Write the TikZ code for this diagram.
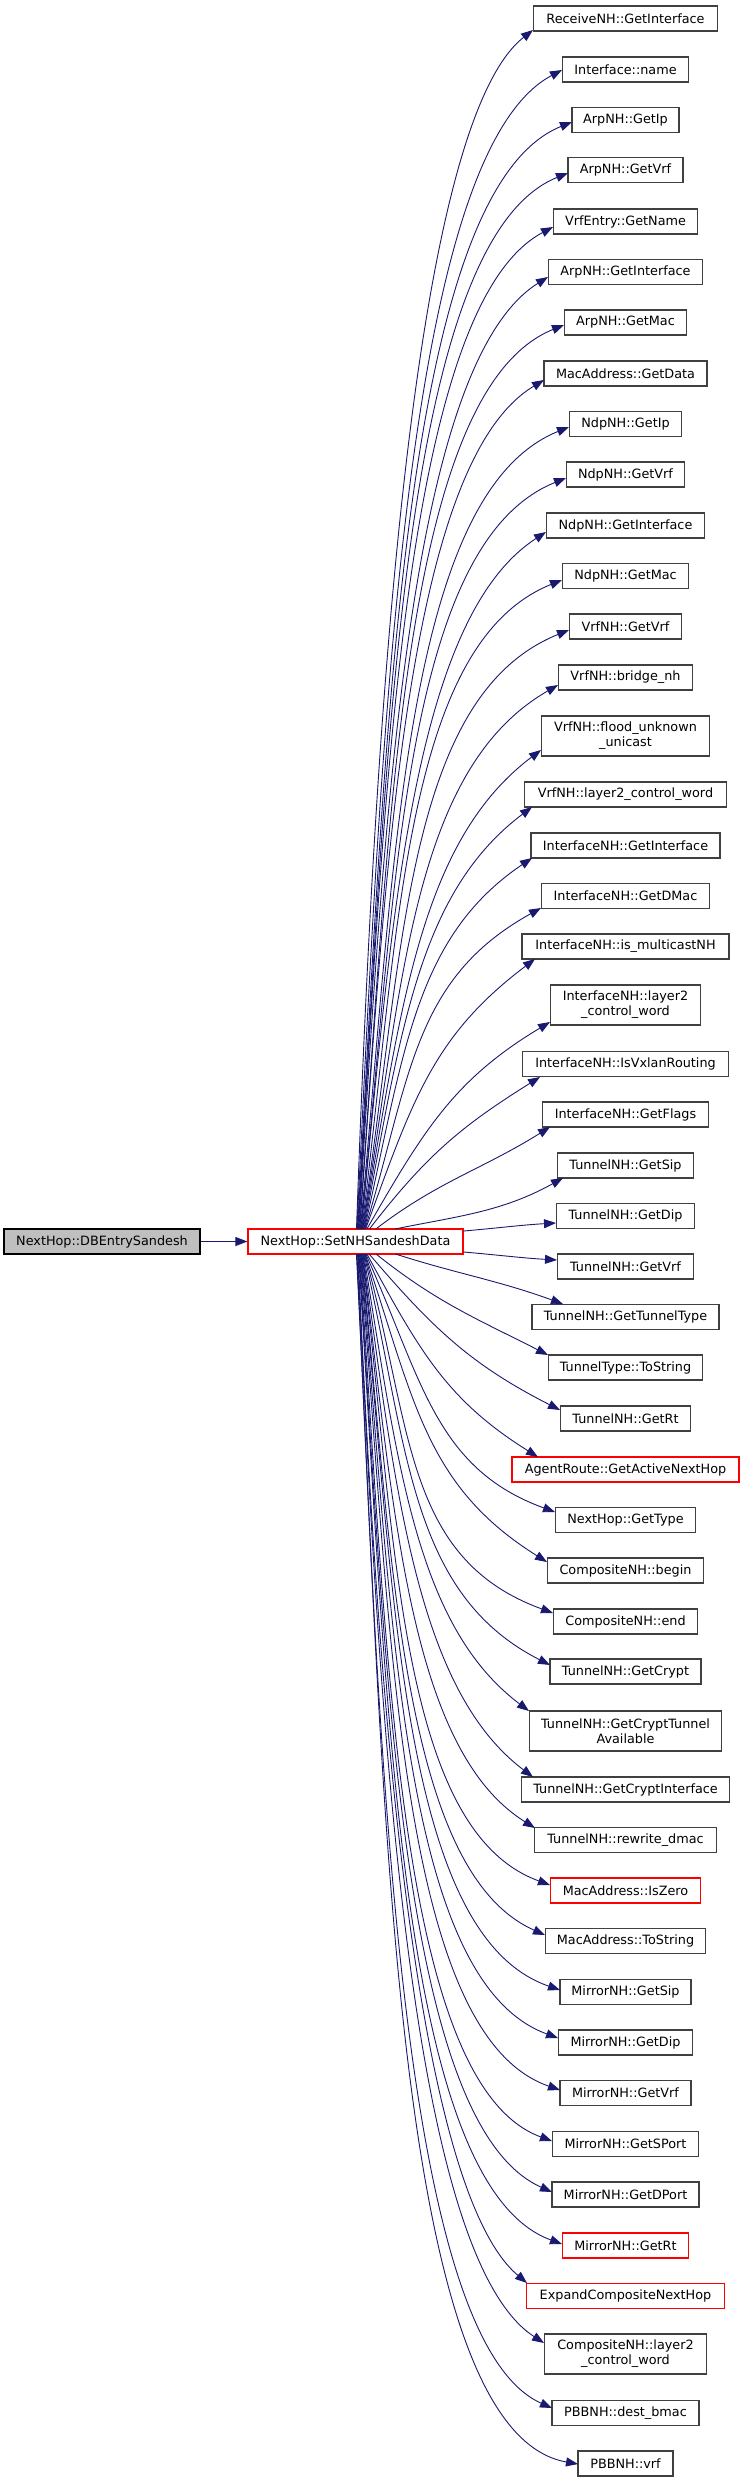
\documentclass[tikz,border=0pt]{standalone}
\usepackage{fontspec}
\setmainfont{DejaVu Sans}
\usetikzlibrary{arrows.meta}
\definecolor{grey25}{HTML}{404040}
\definecolor{grey75}{HTML}{BFBFBF}
\definecolor{midnight}{HTML}{191970}
\definecolor{nodered}{HTML}{FF0000}
\begin{document}
\begin{tikzpicture}[x=1pt,y=-1pt,
  box/.style={draw=grey25,line width=1.2pt,fill=white,inner sep=0pt,minimum height=25pt,
    font=\fontsize{12.8}{15}\selectfont,text=black,align=center},
  tall/.style={minimum height=40pt},
  redbox/.style={draw=nodered},
  rootbox/.style={fill=grey75,draw=black},
  edge/.style={draw=midnight,line width=0.9pt,-{Triangle[length=12pt,width=9pt]},color=midnight}]
\useasboundingbox (0,0) rectangle (744,2483);

\node[box,rootbox,minimum width=196pt] (r) at (102,1241.5) {NextHop::DBEntrySandesh};
\node[box,redbox,minimum width=215pt] (n0) at (355.5,1241.5) {NextHop::SetNHSandeshData};

\node[box,minimum width=184pt] (n1) at (625.5,18.5) {ReceiveNH::GetInterface};
\node[box,minimum width=126pt] (n2) at (625.5,69.5) {Interface::name};
\node[box,minimum width=107pt] (n3) at (625.5,120) {ArpNH::GetIp};
\node[box,minimum width=115pt] (n4) at (625.5,170) {ArpNH::GetVrf};
\node[box,minimum width=144pt] (n5) at (625.5,221.5) {VrfEntry::GetName};
\node[box,minimum width=154pt] (n6) at (625.5,272) {ArpNH::GetInterface};
\node[box,minimum width=122pt] (n7) at (625.5,322.5) {ArpNH::GetMac};
\node[box,minimum width=163pt] (n8) at (625.5,373.5) {MacAddress::GetData};
\node[box,minimum width=112pt] (n9) at (625.5,424) {NdpNH::GetIp};
\node[box,minimum width=118pt] (n10) at (625.5,474.5) {NdpNH::GetVrf};
\node[box,minimum width=158pt] (n11) at (625.5,525.5) {NdpNH::GetInterface};
\node[box,minimum width=126pt] (n12) at (625.5,576) {NdpNH::GetMac};
\node[box,minimum width=112pt] (n13) at (625.5,626.5) {VrfNH::GetVrf};
\node[box,minimum width=134pt] (n14) at (625.5,677.5) {VrfNH::bridge\_nh};
\node[box,tall,minimum width=168pt] (n15) at (625.5,736) {VrfNH::flood\_unknown\\\_unicast};
\node[box,minimum width=202pt] (n16) at (625.5,794.5) {VrfNH::layer2\_control\_word};
\node[box,minimum width=189pt] (n17) at (625.5,845.5) {InterfaceNH::GetInterface};
\node[box,minimum width=168pt] (n18) at (625.5,896) {InterfaceNH::GetDMac};
\node[box,minimum width=207pt] (n19) at (625.5,946.5) {InterfaceNH::is\_multicastNH};
\node[box,tall,minimum width=150pt] (n20) at (625.5,1005) {InterfaceNH::layer2\\\_control\_word};
\node[box,minimum width=206pt] (n21) at (625.5,1064) {InterfaceNH::IsVxlanRouting};
\node[box,minimum width=166pt] (n22) at (625.5,1114.5) {InterfaceNH::GetFlags};
\node[box,minimum width=136pt] (n23) at (625.5,1165.5) {TunnelNH::GetSip};
\node[box,minimum width=138pt] (n24) at (625.5,1216) {TunnelNH::GetDip};
\node[box,minimum width=136pt] (n25) at (625.5,1266.5) {TunnelNH::GetVrf};
\node[box,minimum width=187pt] (n26) at (625.5,1317) {TunnelNH::GetTunnelType};
\node[box,minimum width=154pt] (n27) at (625.5,1367.5) {TunnelType::ToString};
\node[box,minimum width=130pt] (n28) at (625.5,1418.5) {TunnelNH::GetRt};
\node[box,redbox,minimum width=227pt] (n29) at (625.5,1469.5) {AgentRoute::GetActiveNextHop};
\node[box,minimum width=140pt] (n30) at (625.5,1520) {NextHop::GetType};
\node[box,minimum width=156pt] (n31) at (625.5,1570.5) {CompositeNH::begin};
\node[box,minimum width=144pt] (n32) at (625.5,1621.5) {CompositeNH::end};
\node[box,minimum width=151pt] (n33) at (625.5,1671.5) {TunnelNH::GetCrypt};
\node[box,tall,minimum width=192pt] (n34) at (625.5,1731) {TunnelNH::GetCryptTunnel\\Available};
\node[box,minimum width=208pt] (n35) at (625.5,1789.5) {TunnelNH::GetCryptInterface};
\node[box,minimum width=182pt] (n36) at (625.5,1840) {TunnelNH::rewrite\_dmac};
\node[box,redbox,minimum width=150pt] (n37) at (625.5,1890.5) {MacAddress::IsZero};
\node[box,minimum width=160pt] (n38) at (625.5,1941) {MacAddress::ToString};
\node[box,minimum width=131pt] (n39) at (625.5,1992) {MirrorNH::GetSip};
\node[box,minimum width=134pt] (n40) at (625.5,2042.5) {MirrorNH::GetDip};
\node[box,minimum width=131pt] (n41) at (625.5,2093) {MirrorNH::GetVrf};
\node[box,minimum width=146pt] (n42) at (625.5,2144) {MirrorNH::GetSPort};
\node[box,minimum width=147pt] (n43) at (625.5,2194.5) {MirrorNH::GetDPort};
\node[box,redbox,minimum width=126pt] (n44) at (625.5,2245.5) {MirrorNH::GetRt};
\node[box,redbox,minimum width=198pt] (n45) at (625.5,2296) {ExpandCompositeNextHop};
\node[box,tall,minimum width=162pt] (n46) at (625.5,2354) {CompositeNH::layer2\\\_control\_word};
\node[box,minimum width=147pt] (n47) at (625.5,2413) {PBBNH::dest\_bmac};
\node[box,minimum width=95pt] (n48) at (625.5,2463.5) {PBBNH::vrf};

\draw[edge] (r) -- (n0);

\foreach \ki/\cy/\ex/\ey/\ta in {
 1/18.5/533/30/38, 2/69.5/562/70/28, 3/120/572/122/22, 4/170/568/173/22,
 5/221.5/553/227/28, 6/272/548/277/32, 7/322.5/564/325/22, 8/373.5/544/380/31,
 9/424/569/427/22, 10/474.5/566/478/22, 11/525.5/546/532/33, 12/576/562/580/22,
 13/626.5/569/630/22, 14/677.5/558/685/30, 15/736/541/750/37, 16/794.5/532/807/37,
 17/845.5/532/858/34, 18/896/541/908/29, 19/946.5/535/959/37, 20/1005/550/1022/31,
 21/1064/540/1077/32, 22/1114.5/550/1127/32, 23/1165.5/563/1178/29,
 26/1317/563/1304/20, 27/1367.5/548/1355/27, 28/1418.5/560/1410/27,
 29/1469.5/538/1457/32, 30/1520/555/1512/20, 31/1570.5/547/1562/32,
 32/1621.5/553/1613/20, 33/1671.5/550/1665/27, 34/1731/529/1711/37,
 35/1789.5/533/1777/37, 36/1840/535/1828/32, 37/1890.5/550/1885/20,
 38/1941/545/1935/24, 39/1992/560/1990/19, 40/2042.5/558/2038/20,
 41/2093/560/2090/19, 42/2144/552/2141/20, 43/2194.5/552/2192/24,
 44/2245.5/562/2244/20, 45/2296/527/2283/40, 46/2354/544/2343/33,
 47/2413/552/2408/24, 48/2463.5/578/2464/10}{
  \pgfmathsetmacro\eUp{\ey<1241.5 ? 1 : -1}
  \pgfmathsetmacro\esy{\eUp>0 ? 1229 : 1254}
  \pgfmathsetmacro\eDv{abs(\ey-\esy)}
  \pgfmathsetmacro\esx{356+12*(1-\eDv/1250)+28*exp(-min(\eDv-50,400)/45)}
  \pgfmathsetmacro\eW{\ex-\esx}
  \pgfmathsetmacro\eC{100*sqrt((\eW/100)^2+(\eDv/100)^2)}
  \pgfmathsetmacro\eAl{atan2(\eDv,\eW)}
  \pgfmathsetmacro\ew{\eDv/(\eDv+\eW)}
  \pgfmathsetmacro\ePhi{min(89.5,\eAl+(90-\eAl)*\ew*\ew-max(0,\ta-\eAl)*(1-\ew))}
  \pgfmathsetmacro\eLa{0.33*\eC+0.12*\eDv}
  \pgfmathsetmacro\eLb{min(0.85*\eW,0.4*\eC)}
  \pgfmathsetmacro\aX{\eLa*cos(\ePhi)}
  \pgfmathsetmacro\aY{-\eUp*\eLa*sin(\ePhi)}
  \pgfmathsetmacro\bX{-\eLb*cos(\ta)}
  \pgfmathsetmacro\bY{\eUp*\eLb*sin(\ta)}
  \pgfmathsetmacro\sxo{\esx-355.5}
  \pgfmathsetmacro\syo{\esy-1241.5}
  \pgfmathsetmacro\dX{\ex-625.5}
  \pgfmathsetmacro\dY{\ey-\cy}
  \draw[edge] ([shift={(\sxo,\syo)}]n0.center) .. controls +(\aX,\aY) and +(\bX,\bY) .. ([shift={(\dX,\dY)}]n\ki.center);
}

\draw[edge] ([yshift=10.5pt]n0.east) .. controls +(35,-3) and +(-35,2) .. ([shift={(-69.5,7)}]n24.center);
\draw[edge] ([yshift=-10.5pt]n0.east) .. controls +(35,3) and +(-35,-2) .. ([shift={(-68.5,-6.5)}]n25.center);
\end{tikzpicture}
\end{document}
